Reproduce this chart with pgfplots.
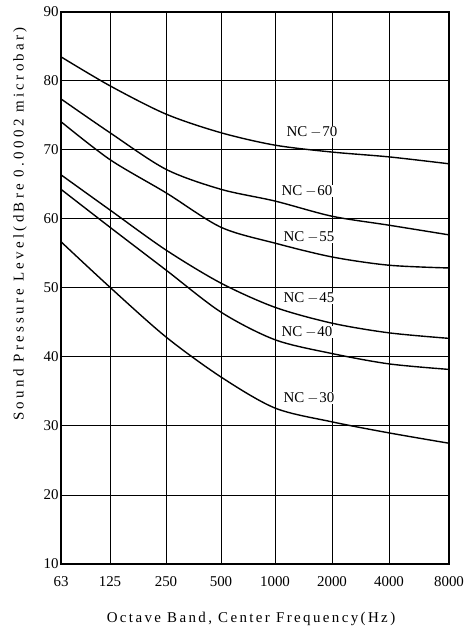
\documentclass[border=0pt]{standalone}
\usepackage{fontspec}
\setmainfont{Liberation Serif}
\newfontfamily\xlabfont[LetterSpace=16]{Liberation Serif}
\newfontfamily\ylabfont[LetterSpace=22]{Liberation Serif}
\usepackage{pgfplots}
\pgfplotsset{compat=1.18}
\usetikzlibrary{calc}
\newcommand{\nc}[1]{NC\hspace{3bp}$-$\hspace{1bp}#1}
\tikzset{nc/.style={black, line width=1.4pt, smooth, tension=0.5, mark=none}}
\begin{document}
\begin{tikzpicture}[x=1bp,y=1bp]
\begin{axis}[
  scale only axis,
  width=388bp, height=552bp,
  xmin=0, xmax=388, ymin=10, ymax=90,
  xtick={0,49,105,160,214,271,328,388},
  xticklabels={63,125,250,500,1000,2000,4000,8000},
  ytick={10,20,...,90},
  grid=major,
  major grid style={black, line width=1pt},
  axis line style={black, line width=1.2pt},
  tick style={draw=none},
  tick label style={font=\fontsize{15}{15}\selectfont},
  /pgf/number format/assume math mode=true,
  xticklabel style={yshift=-9bp},
  yticklabel style={xshift=1bp},
  xlabel={\xlabfont Octave Band, Center Frequency(Hz)},
  ylabel={\ylabfont Sound Pressure Level(dBre 0.0002 microbar)},
  label style={font=\fontsize{15}{15}\selectfont},
  xlabel style={yshift=-19bp, xshift=-4bp},
  ylabel style={at={(ticklabel cs:0.616)}, yshift=10bp},
]
% NC-70
\addplot[nc] coordinates {(0,83.5)(49,79.3)(105,75.2)(160,72.5)(214,70.7)(271,69.7)(328,69.0)(388,68.0)};
% NC-60
\addplot[nc] coordinates {(0,77.4)(49,72.5)(105,67.2)(160,64.3)(214,62.6)(271,60.4)(328,59.1)(388,57.7)};
% NC-55
\addplot[nc] coordinates {(0,74.1)(49,68.6)(105,63.8)(160,58.8)(214,56.5)(271,54.5)(328,53.3)(388,52.9)};
% NC-45
\addplot[nc] coordinates {(0,66.4)(49,61.3)(105,55.5)(160,50.7)(214,47.2)(271,44.9)(328,43.5)(388,42.7)};
% NC-40
\addplot[nc] coordinates {(0,64.3)(49,58.8)(105,52.6)(160,46.5)(214,42.5)(271,40.5)(328,39.0)(388,38.2)};
% NC-30
\addplot[nc] coordinates {(0,56.7)(49,50.1)(105,42.9)(160,37.1)(214,32.6)(271,30.6)(328,29.0)(388,27.5)};
\begin{scope}[every node/.style={font=\fontsize{15}{15}\selectfont, fill=white, inner sep=0.5pt}]
\node at (axis cs:251,72.6) {\nc{70}};
\node at (axis cs:246,64.1) {\nc{60}};
\node at (axis cs:248,57.4) {\nc{55}};
\node at (axis cs:248,48.6) {\nc{45}};
\node at (axis cs:246,43.6) {\nc{40}};
\node at (axis cs:248,34.1) {\nc{30}};
\end{scope}
\end{axis}
\pgfresetboundingbox
\path[use as bounding box] ($(current axis.south west)+(-61bp,-64bp)$) rectangle ($(current axis.north east)+(15bp,12bp)$);
\end{tikzpicture}
\end{document}
